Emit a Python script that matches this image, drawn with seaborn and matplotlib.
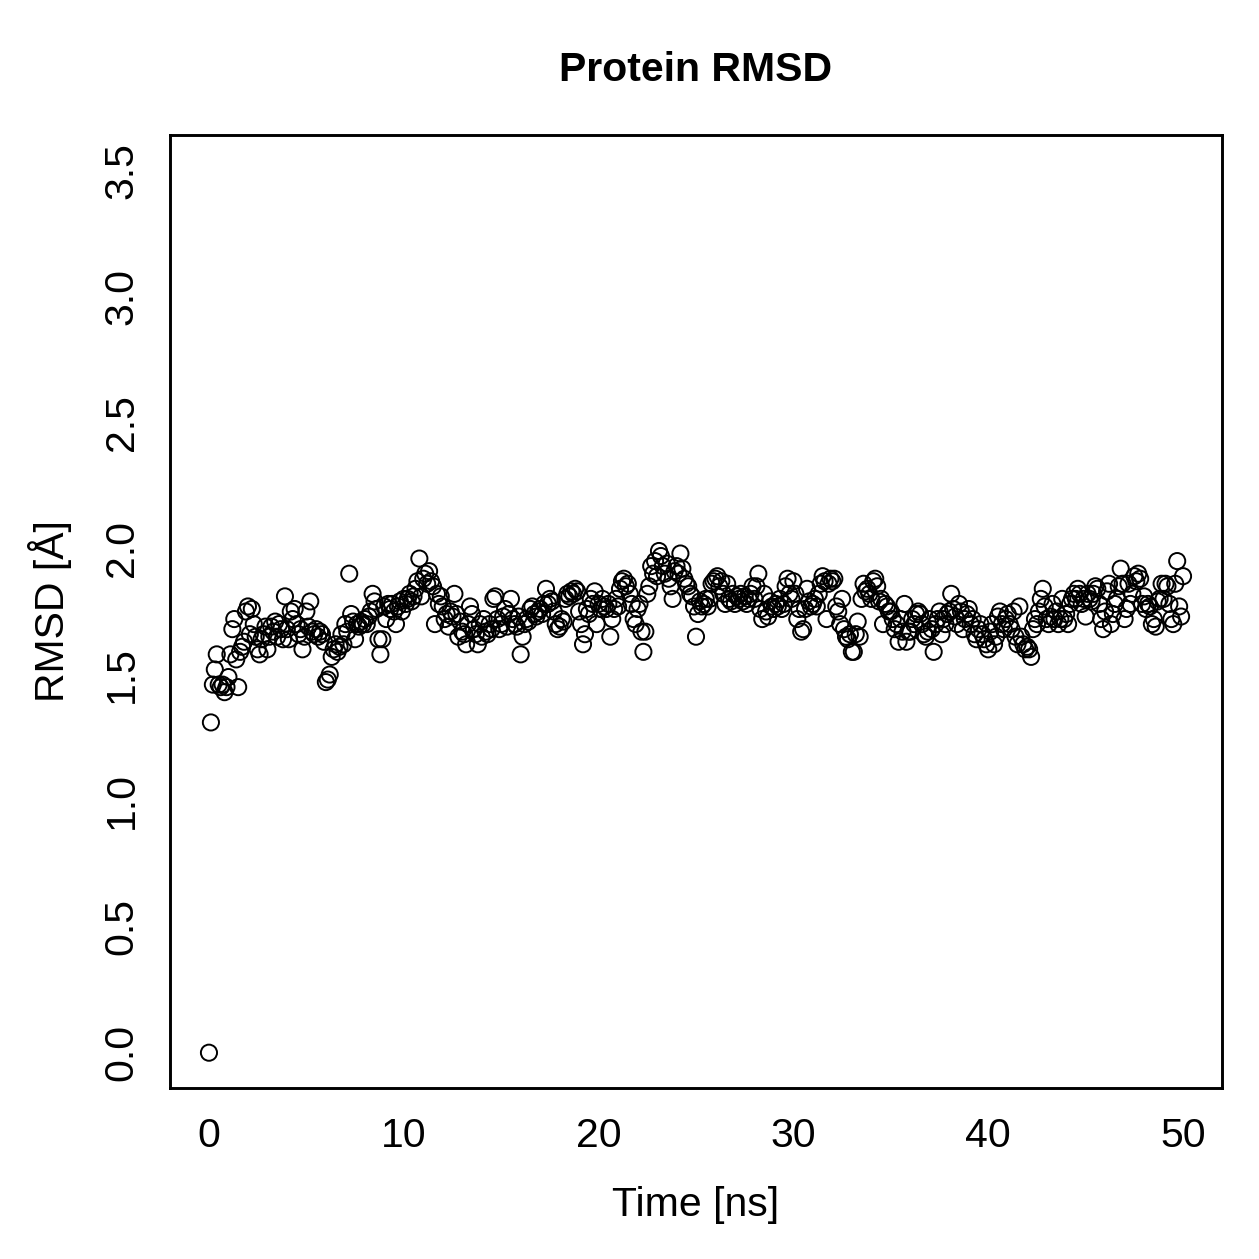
import matplotlib
matplotlib.use("Agg")
import matplotlib.pyplot as plt
import seaborn as sns
import numpy as np
import pandas as pd

# Data: RMSD sampled every 0.1 ns from 0 to 50 ns
time_ns = [i / 10 for i in range(501)]
rmsd = [
    0.00, 1.31, 1.46, 1.52, 1.58, 1.46, 1.45, 1.46, 1.43, 1.45,
    1.49, 1.58, 1.68, 1.72, 1.56, 1.45, 1.59, 1.61, 1.63, 1.75,
    1.77, 1.66, 1.76, 1.70, 1.65, 1.60, 1.58, 1.64, 1.66, 1.69,
    1.60, 1.65, 1.69, 1.67, 1.71, 1.65, 1.70, 1.68, 1.64, 1.81,
    1.68, 1.64, 1.75, 1.72, 1.76, 1.70, 1.66, 1.68, 1.60, 1.65,
    1.75, 1.69, 1.79, 1.67, 1.66, 1.68, 1.65, 1.67, 1.66, 1.63,
    1.47, 1.48, 1.50, 1.57, 1.60, 1.62, 1.59, 1.61, 1.66, 1.62,
    1.70, 1.67, 1.90, 1.74, 1.71, 1.64, 1.70, 1.69, 1.71, 1.70,
    1.72, 1.70, 1.73, 1.75, 1.82, 1.79, 1.76, 1.64, 1.58, 1.64,
    1.77, 1.72, 1.78, 1.76, 1.78, 1.75, 1.70, 1.77, 1.79, 1.75,
    1.80, 1.78, 1.80, 1.82, 1.79, 1.81, 1.84, 1.87, 1.96, 1.81,
    1.88, 1.90, 1.86, 1.91, 1.87, 1.85, 1.70, 1.82, 1.78, 1.81,
    1.77, 1.72, 1.74, 1.69, 1.75, 1.73, 1.82, 1.74, 1.65, 1.71,
    1.67, 1.66, 1.62, 1.70, 1.77, 1.74, 1.68, 1.66, 1.62, 1.70,
    1.65, 1.72, 1.67, 1.66, 1.70, 1.68, 1.80, 1.81, 1.72, 1.68,
    1.70, 1.73, 1.76, 1.69, 1.74, 1.80, 1.72, 1.70, 1.69, 1.73,
    1.58, 1.65, 1.70, 1.72, 1.71, 1.76, 1.77, 1.74, 1.73, 1.75,
    1.76, 1.74, 1.78, 1.84, 1.78, 1.80, 1.79, 1.75, 1.70, 1.68,
    1.69, 1.72, 1.71, 1.80, 1.82, 1.81, 1.83, 1.82, 1.84, 1.83,
    1.75, 1.70, 1.62, 1.66, 1.76, 1.74, 1.80, 1.78, 1.83, 1.70,
    1.78, 1.76, 1.80, 1.77, 1.76, 1.78, 1.65, 1.72, 1.76, 1.80,
    1.77, 1.84, 1.87, 1.88, 1.85, 1.86, 1.82, 1.78, 1.72, 1.70,
    1.76, 1.78, 1.67, 1.59, 1.67, 1.82, 1.85, 1.93, 1.90, 1.95,
    1.89, 1.99, 1.97, 1.93, 1.90, 1.94, 1.88, 1.85, 1.80, 1.91,
    1.93, 1.90, 1.98, 1.92, 1.88, 1.86, 1.85, 1.82, 1.81, 1.77,
    1.65, 1.74, 1.79, 1.77, 1.78, 1.80, 1.77, 1.80, 1.86, 1.87,
    1.88, 1.89, 1.85, 1.87, 1.82, 1.78, 1.86, 1.80, 1.79, 1.82,
    1.78, 1.81, 1.80, 1.82, 1.79, 1.81, 1.78, 1.80, 1.82, 1.85,
    1.80, 1.85, 1.90, 1.76, 1.72, 1.82, 1.75, 1.73, 1.79, 1.77,
    1.76, 1.78, 1.77, 1.80, 1.76, 1.78, 1.85, 1.88, 1.82, 1.80,
    1.87, 1.82, 1.72, 1.76, 1.67, 1.68, 1.76, 1.84, 1.79, 1.77,
    1.78, 1.80, 1.77, 1.82, 1.86, 1.89, 1.87, 1.72, 1.86, 1.88,
    1.87, 1.88, 1.77, 1.75, 1.70, 1.80, 1.68, 1.65, 1.64, 1.66,
    1.59, 1.59, 1.66, 1.71, 1.65, 1.80, 1.86, 1.83, 1.84, 1.82,
    1.80, 1.87, 1.88, 1.85, 1.79, 1.80, 1.70, 1.78, 1.77, 1.75,
    1.75, 1.72, 1.68, 1.70, 1.63, 1.72, 1.67, 1.78, 1.63, 1.67,
    1.67, 1.72, 1.70, 1.74, 1.75, 1.74, 1.70, 1.66, 1.65, 1.67,
    1.72, 1.68, 1.59, 1.70, 1.72, 1.75, 1.66, 1.72, 1.70, 1.74,
    1.75, 1.82, 1.76, 1.73, 1.70, 1.78, 1.75, 1.68, 1.72, 1.74,
    1.76, 1.70, 1.72, 1.66, 1.64, 1.68, 1.70, 1.66, 1.64, 1.62,
    1.60, 1.67, 1.70, 1.62, 1.65, 1.73, 1.75, 1.70, 1.68, 1.72,
    1.74, 1.70, 1.68, 1.75, 1.65, 1.62, 1.77, 1.65, 1.62, 1.60,
    1.61, 1.60, 1.57, 1.68, 1.72, 1.70, 1.75, 1.80, 1.84, 1.77,
    1.72, 1.70, 1.73, 1.78, 1.72, 1.75, 1.70, 1.72, 1.80, 1.72,
    1.74, 1.70, 1.78, 1.80, 1.82, 1.80, 1.84, 1.82, 1.78, 1.80,
    1.73, 1.82, 1.80, 1.79, 1.82, 1.85, 1.84, 1.78, 1.72, 1.68,
    1.75, 1.83, 1.86, 1.70, 1.74, 1.78, 1.80, 1.85, 1.92, 1.86,
    1.72, 1.76, 1.86, 1.78, 1.82, 1.89, 1.87, 1.90, 1.88, 1.78,
    1.81, 1.76, 1.78, 1.77, 1.70, 1.72, 1.69, 1.79, 1.80, 1.86,
    1.80, 1.86, 1.85, 1.78, 1.72, 1.70, 1.86, 1.95, 1.77, 1.73,
    1.89,
]
x_ticks = [0, 10, 20, 30, 40, 50]
y_ticks = [0.0, 0.5, 1.0, 1.5, 2.0, 2.5, 3.0, 3.5]
y_tick_labels = ["0.0", "0.5", "1.0", "1.5", "2.0", "2.5", "3.0", "3.5"]

df = pd.DataFrame({"time": time_ns, "rmsd": rmsd})

sns.set_style("white")
plt.rcParams["font.family"] = ["Liberation Sans", "DejaVu Sans"]
plt.rcParams["text.color"] = "black"
plt.rcParams["axes.labelcolor"] = "black"

fig = plt.figure(figsize=(12.59, 12.59), dpi=100)
ax = fig.add_axes([170 / 1259, 1 - 1088 / 1259, (1222 - 170) / 1259, (1088 - 135) / 1259])

sns.scatterplot(data=df, x="time", y="rmsd", ax=ax, marker="o", s=135,
                facecolor="none", edgecolor="black", linewidth=1.4)

ax.set_xlim(-2, 52)
ax.set_ylim(-0.14, 3.64)
ax.set_xticks(x_ticks)
ax.set_xticklabels([str(t) for t in x_ticks])
ax.set_yticks(y_ticks)
ax.set_yticklabels(y_tick_labels, rotation=90, va="center")

fs = 29.5
ax.tick_params(axis="both", direction="out", length=9, width=1.8,
               labelsize=fs, color="black", labelcolor="black")
ax.tick_params(axis="x", pad=12)
ax.tick_params(axis="y", pad=12)
for sp in ax.spines.values():
    sp.set_linewidth(2.1)
    sp.set_color("black")

ax.set_xlabel("Time [ns]", fontsize=fs, labelpad=22, color="black")
ax.set_ylabel("RMSD [Å]", fontsize=fs, labelpad=22, color="black")
fig.text((170 + 1222) / 2 / 1259, 1 - 70 / 1259, "Protein RMSD", fontsize=fs,
         fontweight="bold", ha="center", va="center", color="black")

fig.savefig("out.png", dpi=100, facecolor="white")
